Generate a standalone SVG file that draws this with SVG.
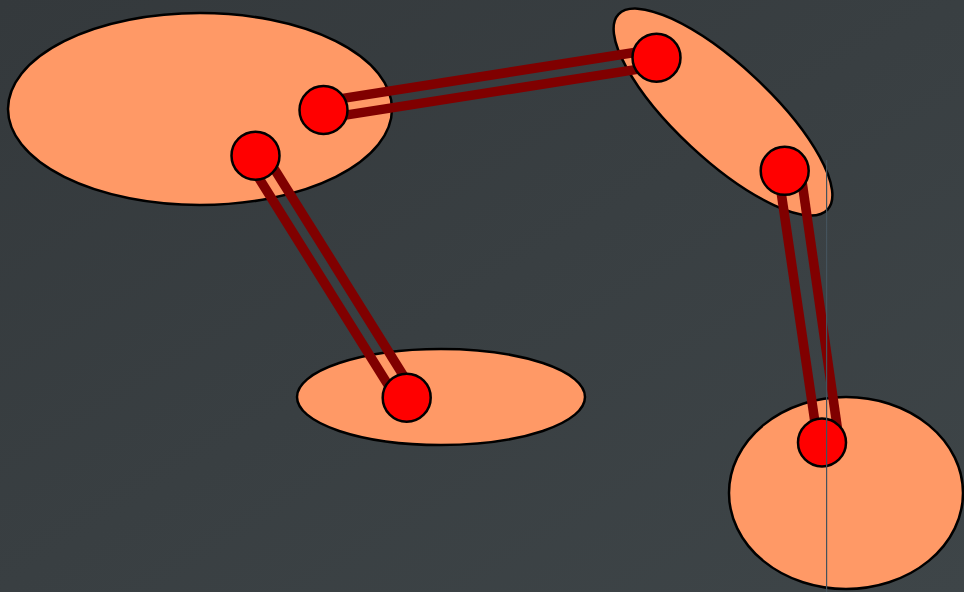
<svg xmlns="http://www.w3.org/2000/svg" width="964" height="592" viewBox="0 0 964 592">
  <defs>
    <linearGradient id="bg" x1="0" y1="0" x2="1" y2="1">
      <stop offset="0" stop-color="#34393c"/>
      <stop offset="1" stop-color="#3e4548"/>
    </linearGradient>
  </defs>
  <style>
    .blob { fill: #ff9966; stroke: #000000; stroke-width: 2.5; }
    .joint { fill: #ff0000; stroke: #000000; stroke-width: 2.5; }
    .rail { stroke: #800000; stroke-width: 9.5; fill: none; }
    .guide { stroke: #44525c; stroke-width: 1.2; fill: none; }
  </style>

  <rect x="0" y="0" width="964" height="592" fill="url(#bg)"/>

  <!-- bodies -->
  <g id="body-upper-left">
    <ellipse class="blob" cx="200" cy="109" rx="192" ry="96"/>
  </g>
  <g id="body-upper-right">
    <ellipse class="blob" cx="723" cy="112" rx="143" ry="47" transform="rotate(43 723 112)"/>
  </g>
  <g id="body-middle">
    <ellipse class="blob" cx="441" cy="397" rx="144" ry="48"/>
  </g>
  <g id="body-lower-right">
    <ellipse class="blob" cx="846" cy="493" rx="117" ry="96"/>
  </g>

  <!-- links between joints -->
  <g id="connectors">
    <line class="rail" x1="322.2" y1="101.6" x2="655.2" y2="49.3"/>
    <line class="rail" x1="324.8" y1="118.4" x2="657.8" y2="66.1"/>
    <line class="rail" x1="263.1" y1="150.9" x2="414.3" y2="392.9"/>
    <line class="rail" x1="247.9" y1="160.5" x2="399.1" y2="402.5"/>
    <line class="rail" x1="778" y1="171" x2="818" y2="443"/>
    <line class="rail" x1="800.5" y1="171" x2="839.5" y2="443"/>
  </g>

  <!-- joints -->
  <g id="joint-a"><circle class="joint" cx="323.5" cy="110" r="24"/></g>
  <g id="joint-b"><circle class="joint" cx="255.5" cy="155.7" r="24"/></g>
  <g id="joint-c"><circle class="joint" cx="656.5" cy="57.7" r="24"/></g>
  <g id="joint-d"><circle class="joint" cx="784.7" cy="170.8" r="24"/></g>
  <g id="joint-e"><circle class="joint" cx="406.7" cy="397.7" r="24"/></g>
  <g id="joint-f"><circle class="joint" cx="822" cy="442.5" r="24"/></g>

  <!-- vertical guide -->
  <line class="guide" x1="826.6" y1="160" x2="826.6" y2="592"/>
</svg>
